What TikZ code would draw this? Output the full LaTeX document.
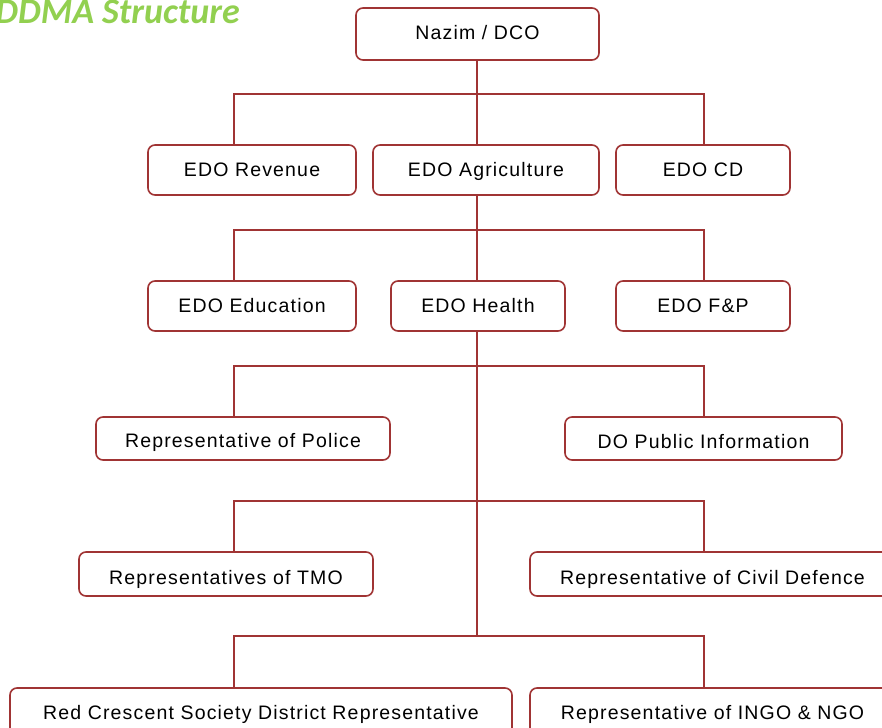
\documentclass[tikz,border=0pt]{standalone}
\usepackage{fontspec}
\setmainfont{Liberation Sans}
\newfontfamily\titlefont{Carlito}
\usetikzlibrary{backgrounds}
\definecolor{boxred}{RGB}{160,52,52}
\definecolor{titlegreen}{RGB}{146,208,80}
\newcommand{\lowtext}[2]{\raisebox{#1}[\height][\depth]{#2}}
\begin{document}
\begin{tikzpicture}[x=1pt,y=-1pt,
  box/.style={draw=boxred, line width=1.6pt, rounded corners=7pt, fill=white,
    font=\fontsize{19.5}{22}\selectfont\addfontfeatures{LetterSpace=6}, inner sep=0pt},
  link/.style={draw=boxred, line width=1.6pt}]
\useasboundingbox (0,0) rectangle (882,727);
\clip (0,0) rectangle (882,727);
\node[anchor=base east, text=titlegreen, inner sep=0pt,
  font=\titlefont\bfseries\itshape\fontsize{36}{40}\selectfont] (title) at (240,24) {DDMA Structure};
% boxes
\node[box, minimum width=243pt, minimum height=52pt] (nazim) at (477.5,34) {\lowtext{1pt}{Nazim / DCO}};
\node[box, minimum width=208pt, minimum height=50pt] (rev) at (252,170) {EDO Revenue};
\node[box, minimum width=226pt, minimum height=50pt] (agr) at (486,170) {\lowtext{-1pt}{EDO Agriculture}};
\node[box, minimum width=174pt, minimum height=50pt] (cd) at (703,170) {EDO CD};
\node[box, minimum width=208pt, minimum height=50pt] (edu) at (252,306) {EDO Education};
\node[box, minimum width=174pt, minimum height=50pt] (hea) at (478,306) {EDO Health};
\node[box, minimum width=174pt, minimum height=50pt] (fp) at (703,306) {EDO F\&P};
\node[box, minimum width=294pt, minimum height=43pt] (pol) at (243,438.5) {\lowtext{-4pt}{Representative of Police}};
\node[box, minimum width=277pt, minimum height=43pt] (dopi) at (703.5,438.5) {\lowtext{-3pt}{DO Public Information}};
\node[box, minimum width=294pt, minimum height=44pt] (tmo) at (226,574) {\lowtext{-5pt}{Representatives of TMO}};
\node[box, minimum width=365pt, minimum height=44pt] (civ) at (712.5,574) {\lowtext{-5pt}{Representative of Civil Defence}};
\node[box, minimum width=502pt, minimum height=52pt] (red) at (261,714) {Red Crescent Society District Representative};
\node[box, minimum width=365pt, minimum height=52pt] (ingo) at (712.5,714) {Representative of INGO \& NGO};
% bus coordinates
\coordinate (b1l) at (234,94);  \coordinate (b1r) at (704,94);
\coordinate (b2l) at (234,230); \coordinate (b2r) at (704,230);
\coordinate (b3l) at (234,366); \coordinate (b3r) at (704,366);
\coordinate (b4l) at (234,501); \coordinate (b4r) at (704,501);
\coordinate (b5l) at (234,636); \coordinate (b5r) at (704,636);
\coordinate (trunkend) at (477,636);
\begin{scope}[on background layer]
\draw[link] (nazim.south -| trunkend) -- (trunkend);
\draw[link] (b1l |- rev.north) -- (b1l) -- (b1r) -- (b1r |- cd.north);
\draw[link] (b2l |- edu.north) -- (b2l) -- (b2r) -- (b2r |- fp.north);
\draw[link] (b3l |- pol.north) -- (b3l) -- (b3r) -- (b3r |- dopi.north);
\draw[link] (b4l |- tmo.north) -- (b4l) -- (b4r) -- (b4r |- civ.north);
\draw[link] (b5l |- red.north) -- (b5l) -- (b5r) -- (b5r |- ingo.north);
\end{scope}
\end{tikzpicture}
\end{document}
